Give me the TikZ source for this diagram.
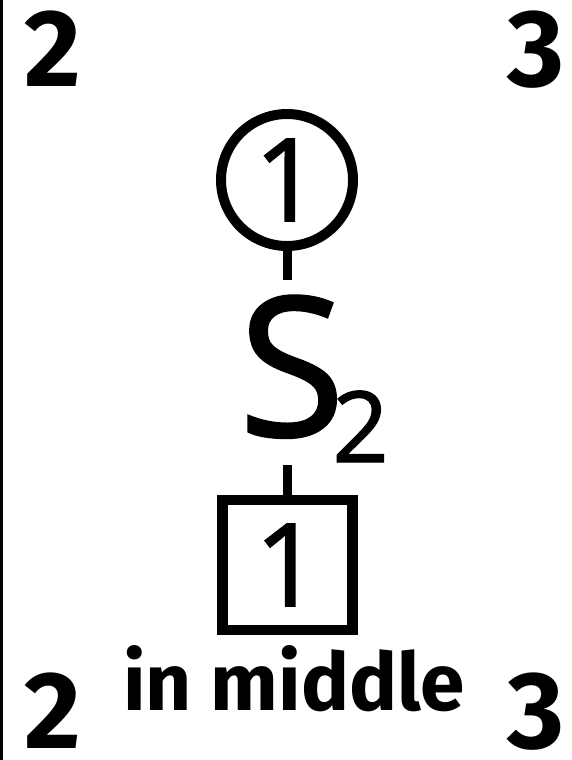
\documentclass[tikz,border=0pt]{standalone}
\usepackage{fontspec}
\setmainfont{Open Sans}
\newfontfamily\markfont{Open Sans}[FakeBold=1.3]
\newfontfamily\handfont{Fira Sans}
\usepackage{tikz}
\usetikzlibrary{positioning,calc}
\tikzset{
  cornerlabel/.style={font=\handfont\bfseries\fontsize{78}{78}\selectfont, inner sep=0pt, anchor=base},
  ringnode/.style={draw, circle, line width=7.1pt, minimum size=3.3cm, inner sep=0pt,
    font=\markfont\fontsize{82}{82}\selectfont},
  boxnode/.style={draw, rectangle, line width=7.8pt, minimum size=3.25cm, inner sep=0pt,
    font=\markfont\fontsize{82}{82}\selectfont},
  stem/.style={line width=6.4pt},
  notelabel/.style={font=\handfont\bfseries\fontsize{57}{57}\selectfont, inner sep=0pt, anchor=base},
}

\begin{document}
\begin{tikzpicture}
  \useasboundingbox (0,0) rectangle (14.275,-19);
  \draw[line width=2.1pt] (0.0375,0) -- (0.0375,-19);

  % corner numbers
  \node[cornerlabel] (tl) at (1.3125,-2.175)  {2};
  \node[cornerlabel] (tr) at (13.4,-2.175)    {3};
  \node[cornerlabel] (bl) at (1.3125,-18.7)   {2};
  \node[cornerlabel] (br) at (13.4,-18.7)     {3};

  % middle column
  \node[ringnode] (ring) at (7.175,-4.5) {1};
  \node[inner sep=0pt, anchor=base, text height=111pt, text depth=20.6pt] (ess) at (7.84,-10.9)
    {\markfont\fontsize{138}{138}\selectfont S\kern-9pt\raisebox{-18.5pt}{\fontsize{70}{70}\selectfont 2}};
  \node[boxnode] (box) at (7.1875,-14.125) {1};

  \draw[stem] (ring.south) -- (ring.south |- ess.north);
  \draw[stem] (box.north |- ess.south) -- (box.north);

  \node[notelabel] (note) at (7.35,-17.75) {in middle};
\end{tikzpicture}
\end{document}
